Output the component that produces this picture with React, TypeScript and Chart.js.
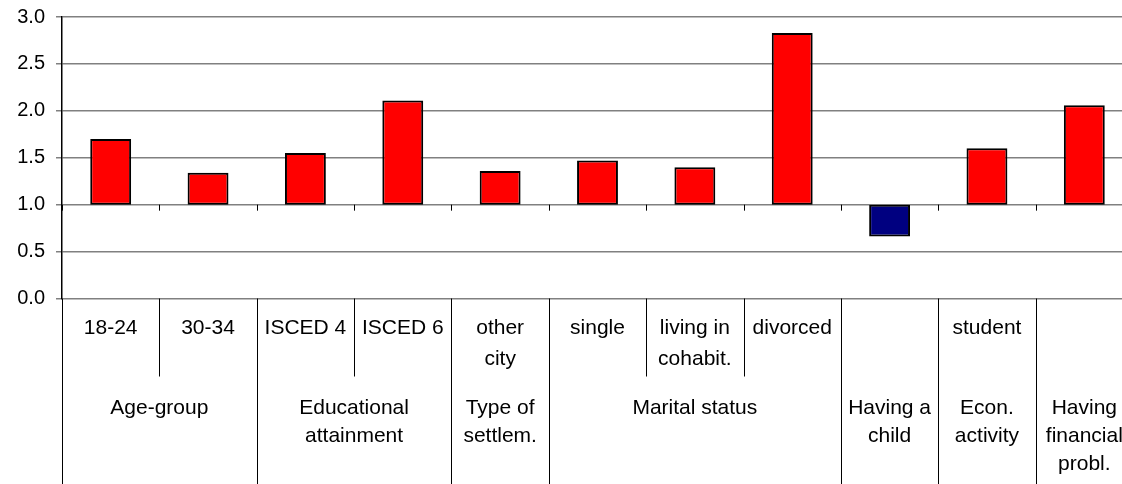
import React, { useEffect, useRef } from "react";
import { Chart, registerables } from "chart.js";

Chart.register(...registerables);

// ---- data ----
const categories = [
  "18-24",
  "30-34",
  "ISCED 4",
  "ISCED 6",
  "other city",
  "single",
  "living in cohabit.",
  "divorced",
  "Having a child",
  "student",
  "Having financial probl.",
];
const subLabels: string[][] = [
  ["18-24"],
  ["30-34"],
  ["ISCED 4"],
  ["ISCED 6"],
  ["other", "city"],
  ["single"],
  ["living in", "cohabit."],
  ["divorced"],
  [],
  ["student"],
  [],
];
const groupLabels: string[][] = [
  ["Age-group"],
  ["Educational", "attainment"],
  ["Type of", "settlem."],
  ["Marital status"],
  ["Having a", "child"],
  ["Econ.", "activity"],
  ["Having", "financial", "probl."],
];
const groupSpans = [2, 2, 1, 3, 1, 1, 1];
const values = [1.7, 1.34, 1.55, 2.11, 1.36, 1.47, 1.4, 2.83, 0.66, 1.6, 2.06];
const baseline = 1.0;
const yMin = 0;
const yMax = 3;
const yStep = 0.5;

const FONT = "'Liberation Sans', Arial, Helvetica, sans-serif";

const categoryTable = {
  id: "categoryTable",
  afterDraw(chart: any) {
    const ctx = chart.ctx as CanvasRenderingContext2D;
    const xs = chart.scales.x;
    const ys = chart.scales.y;
    const n = categories.length;
    const w = xs.getPixelForValue(1) - xs.getPixelForValue(0);
    const edge = (i: number) => xs.getPixelForValue(i) - w / 2;
    const y0 = ys.getPixelForValue(yMin);
    const y1 = ys.getPixelForValue(baseline);
    const H = chart.height;
    const subBottom = y0 + 78;

    ctx.save();
    ctx.strokeStyle = "#000";
    ctx.lineWidth = 1;

    // tick marks on the category axis (crossing at baseline)
    for (let i = 0; i <= n; i++) {
      const x = Math.round(edge(i)) + 0.5;
      ctx.beginPath();
      ctx.moveTo(x, y1);
      ctx.lineTo(x, y1 + 6);
      ctx.stroke();
    }

    // group boundaries
    const groupEdges = new Set<number>();
    let acc = 0;
    groupEdges.add(0);
    groupSpans.forEach((s) => {
      acc += s;
      groupEdges.add(acc);
    });

    for (let i = 0; i <= n; i++) {
      const x = Math.round(edge(i)) + 0.5;
      ctx.beginPath();
      ctx.moveTo(x, y0);
      ctx.lineTo(x, groupEdges.has(i) ? H : subBottom);
      ctx.stroke();
    }

    // texts
    ctx.fillStyle = "#000";
    ctx.font = `21px ${FONT}`;
    ctx.textAlign = "center";
    ctx.textBaseline = "middle";
    subLabels.forEach((lines, i) => {
      const cx = xs.getPixelForValue(i);
      lines.forEach((t, k) => ctx.fillText(t, cx, y0 + 30 + k * 31));
    });
    let start = 0;
    groupLabels.forEach((lines, g) => {
      const span = groupSpans[g];
      const cx = (edge(start) + edge(start + span)) / 2;
      lines.forEach((t, k) => ctx.fillText(t, cx, y0 + 110 + k * 28));
      start += span;
    });
    ctx.restore();
  },
};

export default function App() {
  const ref = useRef<HTMLCanvasElement>(null);

  useEffect(() => {
    if (!ref.current) return;
    const chart = new Chart(ref.current, {
      type: "bar",
      data: {
        labels: categories,
        datasets: [
          {
            data: values.map((v) => [baseline, v]) as any,
            backgroundColor: values.map((v) => (v < baseline ? "#000080" : "#FF0000")),
            borderColor: "#000",
            borderWidth: 2,
            borderSkipped: false,
            barPercentage: 0.42,
            categoryPercentage: 1,
          },
        ],
      },
      options: {
        responsive: false,
        animation: false,
        devicePixelRatio: 1,
        layout: { padding: { top: 17, bottom: 185.5, left: 0, right: 0 } },
        plugins: {
          legend: { display: false },
          tooltip: { enabled: false },
          title: { display: false },
        },
        scales: {
          x: { display: false },
          y: {
            min: yMin,
            max: yMax,
            afterFit: (s: any) => {
              s.width = 62;
              s.paddingTop = 0;
              s.paddingBottom = 0;
            },
            ticks: {
              stepSize: yStep,
              padding: 11,
              color: "#000",
              font: { family: FONT, size: 20 },
              callback: (v: any) => Number(v).toFixed(1),
            },
            grid: {
              color: "#808080",
              lineWidth: 1.5,
              tickLength: 6,
              drawTicks: true,
            },
            border: { display: true, color: "#000", width: 1.5 },
          },
        },
      },
      plugins: [categoryTable],
    });
    return () => chart.destroy();
  }, []);

  return (
    <div
      style={{
        position: "fixed",
        left: 0,
        top: 0,
        width: 1122,
        height: 484,
        overflow: "hidden",
        background: "#fff",
      }}
    >
      <canvas ref={ref} width={1133} height={484} style={{ width: 1133, height: 484, display: "block" }} />
    </div>
  );
}
